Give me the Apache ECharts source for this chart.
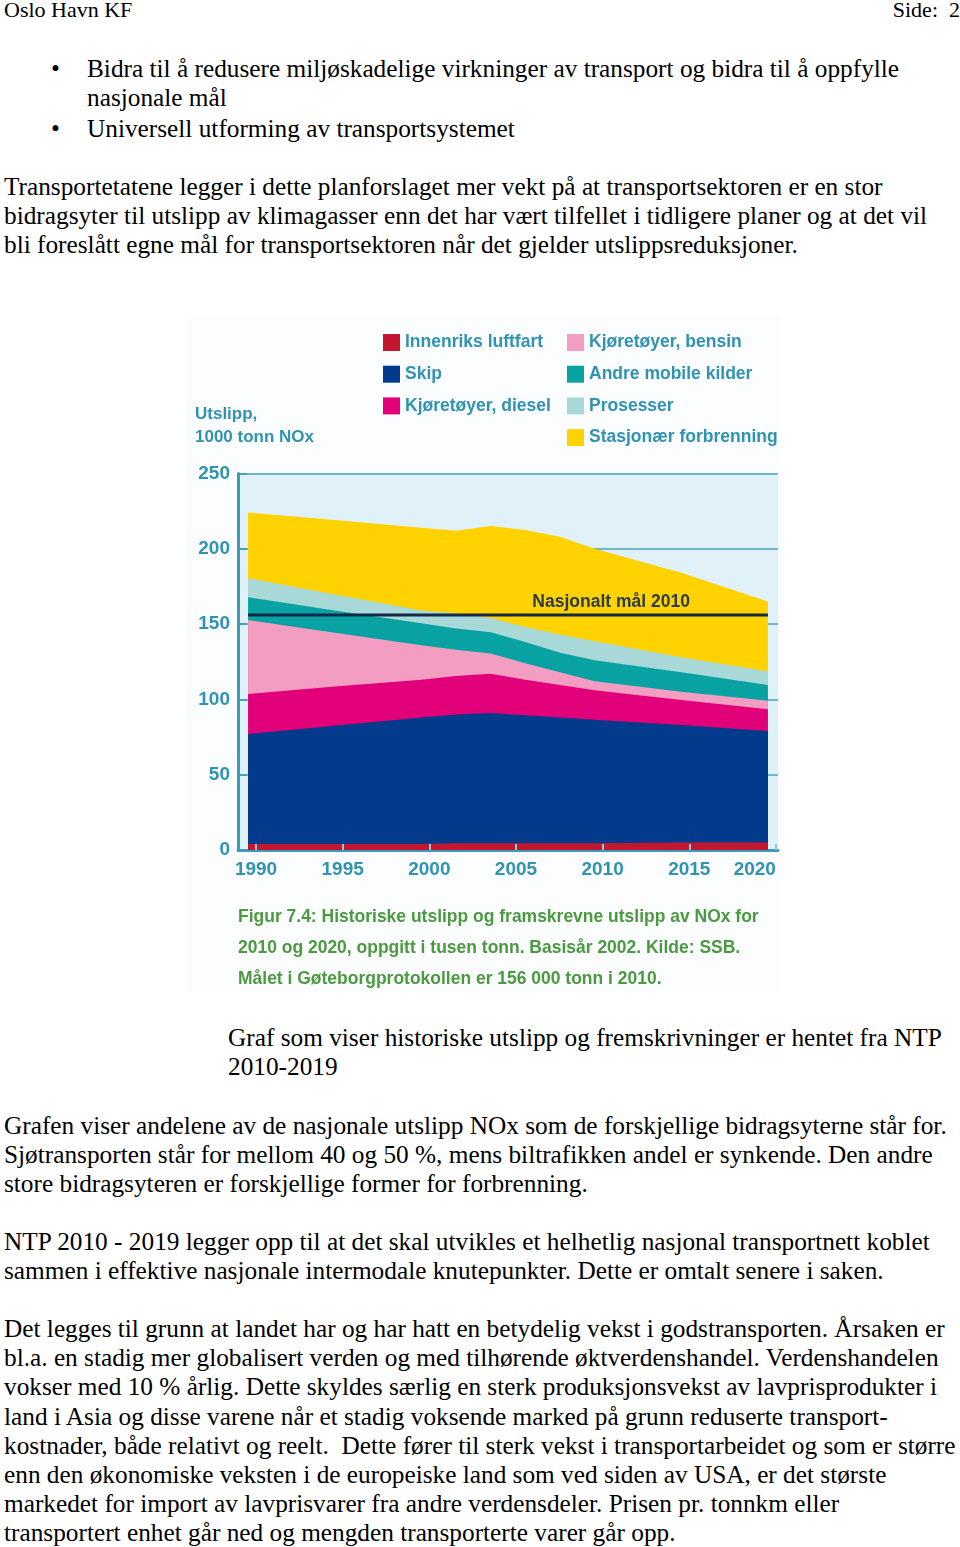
<!DOCTYPE html>
<html><head><meta charset="utf-8">
<script src="https://cdn.jsdelivr.net/npm/echarts@6.0.0/dist/echarts.min.js"></script>
<style>
html,body{margin:0;padding:0;background:#fff;}
body{width:960px;height:1547px;position:relative;overflow:hidden;font-family:"Liberation Serif","Times New Roman",serif;color:#000;}
.l{position:absolute;white-space:nowrap;font-size:25.3px;line-height:29px;height:29px;}
.h{font-size:22px;}
#chart{position:absolute;left:185px;top:315px;width:595px;height:677px;}
</style></head><body>
<div class="l h" style="left:4px;top:-5px;">Oslo Havn KF</div>
<div class="l h" style="right:0px;top:-5px;">Side:&nbsp; 2</div>
<div class="l" style="left:51px;top:54px;">•</div>
<div class="l" style="left:87px;top:54px;">Bidra til å redusere miljøskadelige virkninger av transport og bidra til å oppfylle</div>
<div class="l" style="left:87px;top:83px;">nasjonale mål</div>
<div class="l" style="left:51px;top:114px;">•</div>
<div class="l" style="left:87px;top:114px;">Universell utforming av transportsystemet</div>
<div class="l" style="left:4px;top:172px;">Transportetatene legger i dette planforslaget mer vekt på at transportsektoren er en stor</div>
<div class="l" style="left:4px;top:201px;">bidragsyter til utslipp av klimagasser enn det har vært tilfellet i tidligere planer og at det vil</div>
<div class="l" style="left:4px;top:230px;">bli foreslått egne mål for transportsektoren når det gjelder utslippsreduksjoner.</div>
<div id="chart"></div>
<div class="l" style="left:228px;top:1023px;">Graf som viser historiske utslipp og fremskrivninger er hentet fra NTP</div>
<div class="l" style="left:228px;top:1052px;">2010-2019</div>
<div class="l" style="left:4px;top:1111px;">Grafen viser andelene av de nasjonale utslipp NOx som de forskjellige bidragsyterne står for.</div>
<div class="l" style="left:4px;top:1140px;">Sjøtransporten står for mellom 40 og 50 %, mens biltrafikken andel er synkende. Den andre</div>
<div class="l" style="left:4px;top:1169px;">store bidragsyteren er forskjellige former for forbrenning.</div>
<div class="l" style="left:4px;top:1227px;">NTP 2010 - 2019 legger opp til at det skal utvikles et helhetlig nasjonal transportnett koblet</div>
<div class="l" style="left:4px;top:1256px;">sammen i effektive nasjonale intermodale knutepunkter. Dette er omtalt senere i saken.</div>
<div class="l" style="left:4px;top:1314px;">Det legges til grunn at landet har og har hatt en betydelig vekst i godstransporten. Årsaken er</div>
<div class="l" style="left:4px;top:1343px;">bl.a. en stadig mer globalisert verden og med tilhørende øktverdenshandel. Verdenshandelen</div>
<div class="l" style="left:4px;top:1372px;">vokser med 10 % årlig. Dette skyldes særlig en sterk produksjonsvekst av lavprisprodukter i</div>
<div class="l" style="left:4px;top:1402px;">land i Asia og disse varene når et stadig voksende marked på grunn reduserte transport-</div>
<div class="l" style="left:4px;top:1431px;">kostnader, både relativt og reelt.&nbsp; Dette fører til sterk vekst i transportarbeidet og som er større</div>
<div class="l" style="left:4px;top:1460px;">enn den økonomiske veksten i de europeiske land som ved siden av USA, er det største</div>
<div class="l" style="left:4px;top:1489px;">markedet for import av lavprisvarer fra andre verdensdeler. Prisen pr. tonnkm eller</div>
<div class="l" style="left:4px;top:1518px;">transportert enhet går ned og mengden transporterte varer går opp.</div>
<script>
// ---- data (1000 tonn NOx) ----
const years      = [1990, 1995, 2000, 2002, 2004, 2006, 2008, 2010, 2015, 2020];
const luftfart   = [4, 4, 4, 4.5, 4.5, 4.5, 4.5, 4.5, 5, 5];
const skip       = [73, 78.5, 84, 85.5, 86.5, 85, 83.5, 82, 78, 74];
const diesel     = [26.5, 26, 25, 25.5, 26, 23.5, 21.5, 19.5, 16.5, 14.5];
const bensin     = [49.2, 35.8, 22.9, 17.5, 13.5, 11, 8.5, 6, 5.5, 5.5];
const andreMobile= [15.1, 14.7, 14.6, 14, 14, 14, 13, 14, 13, 10.5];
const prosesser  = [12.6, 10.6, 8.5, 10, 9.5, 10, 12, 12.5, 10, 9];
const stasjonaer = [43.6, 49.4, 55, 55, 61, 64.5, 65, 61.5, 56, 46.5];
const target2010 = 156;
const xTickYears = [1990, 1995, 2000, 2005, 2010, 2015, 2020];
const yTicks     = [0, 50, 100, 150, 200, 250];
const names = ['Innenriks luftfart','Skip','Kjøretøyer, diesel','Kjøretøyer, bensin','Andre mobile kilder','Prosesser','Stasjonær forbrenning'];
const values = [luftfart, skip, diesel, bensin, andreMobile, prosesser, stasjonaer];
const colors = ['#c3172f','#043a8c','#e2007a','#f29dc1','#08a2a2','#a8d8d8','#ffd200'];

const teal = '#2f93b3';
const lblFont = '"Liberation Sans", Arial, sans-serif';
const chart = echarts.init(document.getElementById('chart'), null, {renderer:'canvas'});

// cumulative totals per layer (stack built here, drawn top layer first so lower layers paint over it)
const cumulative = values.map((v, k) => years.map((y, i) => {
  let s = 0; for (let j = 0; j <= k; j++) s += values[j][i]; return s;
}));
const series = [];
for (let k = values.length - 1; k >= 0; k--) {
  series.push({
    name: names[k], type: 'line', xAxisIndex: 0, yAxisIndex: 0,
    symbol: 'none', silent: true, color: colors[k],
    lineStyle: {width: 0}, areaStyle: {color: colors[k], opacity: 1, origin: 'start'},
    data: years.map((y, i) => [y, cumulative[k][i]])
  });
}
series.push({
  name: 'target', type: 'line', xAxisIndex: 0, yAxisIndex: 0, symbol: 'none', silent: true, z: 5,
  lineStyle: {color: '#14284a', width: 3},
  data: [[years[0], target2010], [years[years.length-1], target2010]],
  markPoint: {silent: true, symbol: 'rect', symbolSize: 1, itemStyle: {color: 'rgba(0,0,0,0)'},
    label: {show: true, position: 'top', distance: 3, formatter: 'Nasjonalt mål 2010',
      color: '#2e3b49', fontFamily: lblFont, fontWeight: 'bold', fontSize: 17.5},
    data: [{coord: [2010.95, target2010]}]}
});

const legendCommon = {orient: 'vertical', icon: 'rect', itemWidth: 17, itemHeight: 17, itemGap: 13.7, padding: 0,
  selectedMode: false, textStyle: {color: teal, fontFamily: lblFont, fontWeight: 'bold', fontSize: 17.5}};

chart.setOption({
  backgroundColor: '#fbfdfe',
  animation: false,
  grid: {left: 53, top: 158.4, width: 540, height: 376.6, show: true, backgroundColor: '#e0f2f8', borderWidth: 0,
    outerBoundsMode: 'none', containLabel: false},
  legend: [
    Object.assign({left: 198, top: 18.5, data: names.slice(0, 3)}, legendCommon),
    Object.assign({left: 382, top: 18.5, data: names.slice(3)}, legendCommon)
  ],
  xAxis: [
    {type: 'value', min: 1989.42, max: 2020.58, show: true, position: 'bottom',
      axisLine: {show: true, onZero: false, lineStyle: {color: '#3a9bbb', width: 3}},
      axisTick: {show: false}, axisLabel: {show: false}, splitLine: {show: false}},
    {type: 'value', min: 1988.96, max: 2020.12, position: 'bottom', z: 10,
      axisLine: {show: false},
      axisTick: {show: true, inside: true, length: 6, customValues: xTickYears, lineStyle: {color: '#8acbe0', width: 2}},
      axisLabel: {show: true, customValues: xTickYears, margin: 10, formatter: v => String(v), alignMaxLabel: 'right',
        color: teal, fontFamily: lblFont, fontWeight: 'bold', fontSize: 19},
      splitLine: {show: false}}
  ],
  yAxis: {type: 'value', min: yTicks[0], max: yTicks[yTicks.length-1], interval: 50,
    axisLine: {show: true, lineStyle: {color: '#3a9bbb', width: 3}},
    axisTick: {show: true, inside: true, length: 9, lineStyle: {color: '#3a9bbb', width: 1.5}},
    axisLabel: {margin: 8, color: teal, fontFamily: lblFont, fontWeight: 'bold', fontSize: 19},
    splitLine: {show: true, lineStyle: {color: '#4aa2c0', width: 1.5}}},
  graphic: [
    {type: 'text', left: 10, top: 88, style: {text: 'Utslipp,\n1000 tonn NOx', fill: teal,
      font: 'bold 17px "Liberation Sans", Arial, sans-serif', lineHeight: 23}},
    {type: 'text', x: 53, y: 586, scaleX: 0.92, style: {text: 'Figur 7.4: Historiske utslipp og framskrevne utslipp av NOx for\n2010 og 2020, oppgitt i tusen tonn. Basisår 2002. Kilde: SSB.\nMålet i Gøteborgprotokollen er 156 000 tonn i 2010.',
      fill: '#4a9a3f', font: 'bold 19px "Liberation Sans", Arial, sans-serif', lineHeight: 31}}
  ],
  series: series
});
</script>
</body></html>
